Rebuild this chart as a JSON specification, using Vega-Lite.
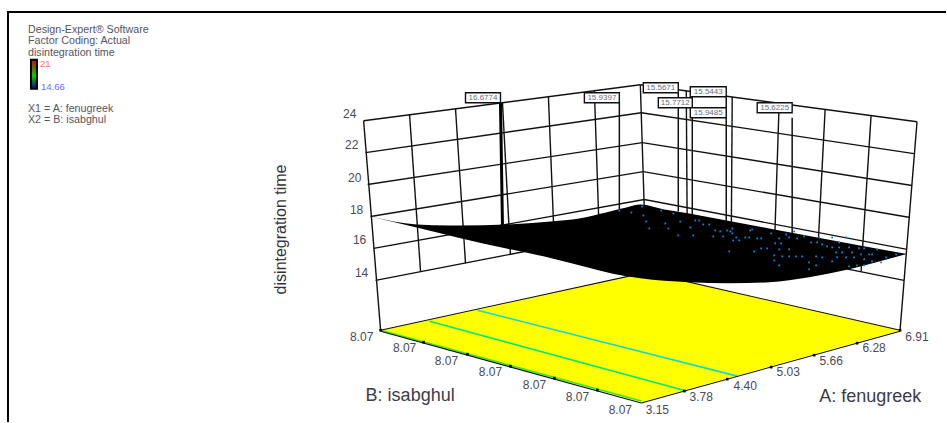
{"$schema":"https://vega.github.io/schema/vega-lite/v6.json","width":947,"height":423,"padding":0,"autosize":{"type":"fit","contains":"padding"},"background":"white","config":{"view":{"stroke":null},"text":{"font":"Liberation Sans"}},
"datasets":{
"frame":[{"h":7,"v":12,"h2":947,"v2":12},{"h":8,"v":11,"h2":8,"v2":423}],
"walls":[
{"h":364,"v":121,"h2":641,"v2":85},{"h":366,"v":153,"h2":642,"v2":113},{"h":368,"v":185,"h2":643,"v2":143},{"h":371,"v":217,"h2":644,"v2":172},{"h":374,"v":249,"h2":645,"v2":200},{"h":376,"v":281,"h2":645,"v2":229},
{"h":641,"v":85,"h2":918,"v2":122},{"h":642,"v":113,"h2":915,"v2":154},{"h":643,"v":143,"h2":913,"v2":186},{"h":644,"v":172,"h2":911,"v2":218},{"h":645,"v":200,"h2":908,"v2":250},{"h":645,"v":229,"h2":905,"v2":281},
{"h":364,"v":121,"h2":381,"v2":331},{"h":918,"v":122,"h2":901,"v2":331},{"h":641,"v":85,"h2":647,"v2":273},
{"h":410,"v":115,"h2":421,"v2":272},{"h":456,"v":109,"h2":466,"v2":264},{"h":503,"v":103,"h2":511,"v2":255},{"h":549,"v":97,"h2":555,"v2":246},{"h":595,"v":91,"h2":600,"v2":238},
{"h":687,"v":91,"h2":688,"v2":238},{"h":733,"v":97,"h2":732,"v2":246},{"h":780,"v":103,"h2":775,"v2":255},{"h":826,"v":110,"h2":818,"v2":264},{"h":872,"v":116,"h2":862,"v2":272}],
"floor":[{"h":381,"v":331,"v2":331},{"h":642,"v":274,"v2":403},{"h":647,"v":273,"v2":401.6},{"h":901,"v":331,"v2":331}],
"contours":[{"level":"a","h":381,"v":331,"h2":642,"v2":402},{"level":"b","h":430,"v":322,"h2":687,"v2":392},{"level":"c","h":478,"v":311,"h2":738,"v2":377}],
"floorEdges":[{"h":381,"v":331,"h2":647,"v2":273},{"h":647,"v":273,"h2":901,"v2":331},{"h":381,"v":332,"h2":642,"v2":404},{"h":642,"v":404,"h2":901,"v2":332}],
"floorTicks":[{"h":424,"v":343},{"h":468,"v":355},{"h":511,"v":367},{"h":555,"v":379},{"h":598,"v":391},{"h":685,"v":392},{"h":728,"v":380},{"h":772,"v":368},{"h":815,"v":356},{"h":858,"v":344},{"h":381,"v":331},{"h":901,"v":331}],
"stems":[{"h":620,"v":103,"h2":620,"v2":210},{"h":679,"v":93,"h2":679,"v2":212},{"h":693,"v":108,"h2":693,"v2":215},{"h":727,"v":97,"h2":727,"v2":222},{"h":793,"v":118,"h2":793,"v2":236}],
"boldStem":[{"h":501,"v":103,"h2":503,"v2":226}],
"surface":[{"h":371,"v":217,"v2":217},{"h":417,"v":225,"v2":228},{"h":450,"v":226,"v2":236},{"h":460,"v":226,"v2":238.5},{"h":507,"v":225,"v2":249},{"h":557,"v":221.5,"v2":260},{"h":573,"v":220,"v2":264},{"h":627,"v":208,"v2":277},{"h":641,"v":205,"v2":279},{"h":665,"v":210,"v2":281.5},{"h":690,"v":214,"v2":283},{"h":730,"v":221.5,"v2":284},{"h":770,"v":229,"v2":283},{"h":810,"v":236.5,"v2":278},{"h":850,"v":244,"v2":270},{"h":880,"v":249.5,"v2":262},{"h":908,"v":254.5,"v2":254.5}],
"dots":[{"h":632,"v":213},{"h":643,"v":207},{"h":644,"v":216},{"h":647,"v":222},{"h":662,"v":211},{"h":666,"v":224},{"h":674,"v":214},{"h":669,"v":229},{"h":679,"v":236},{"h":681,"v":222},{"h":650,"v":229},{"h":620,"v":211},{"h":691,"v":228},{"h":696,"v":221},{"h":700,"v":221},{"h":694,"v":236},{"h":704,"v":225},{"h":710,"v":225},{"h":714,"v":237},{"h":716,"v":231},{"h":721,"v":232},{"h":724,"v":237},{"h":728,"v":231},{"h":731,"v":232},{"h":733,"v":229},{"h":733,"v":234},{"h":734,"v":241},{"h":737,"v":238},{"h":740,"v":241},{"h":746,"v":238},{"h":750,"v":238},{"h":751,"v":231},{"h":753,"v":230},{"h":758,"v":239},{"h":762,"v":239},{"h":772,"v":234},{"h":776,"v":244},{"h":782,"v":244},{"h":780,"v":239},{"h":787,"v":235},{"h":790,"v":238},{"h":798,"v":239},{"h":795,"v":232},{"h":790,"v":250},{"h":780,"v":250},{"h":768,"v":249},{"h":755,"v":252},{"h":762,"v":249},{"h":775,"v":256},{"h":783,"v":257},{"h":790,"v":257},{"h":797,"v":257},{"h":803,"v":257},{"h":817,"v":257},{"h":780,"v":266},{"h":775,"v":261},{"h":810,"v":270},{"h":817,"v":266},{"h":810,"v":263},{"h":805,"v":237},{"h":812,"v":243},{"h":818,"v":243},{"h":823,"v":245},{"h":828,"v":247},{"h":833,"v":248},{"h":840,"v":248},{"h":850,"v":248},{"h":860,"v":249},{"h":865,"v":249},{"h":873,"v":255},{"h":878,"v":250},{"h":887,"v":258},{"h":897,"v":255},{"h":837,"v":253},{"h":843,"v":253},{"h":853,"v":253},{"h":862,"v":255},{"h":870,"v":255},{"h":838,"v":258},{"h":847,"v":258},{"h":855,"v":258},{"h":865,"v":260},{"h":873,"v":262},{"h":882,"v":263},{"h":823,"v":258},{"h":833,"v":262},{"h":850,"v":267},{"h":858,"v":266},{"h":865,"v":266},{"h":833,"v":238},{"h":840,"v":243},{"h":820,"v":238},{"h":847,"v":238},{"h":730,"v":252}],
"boxes":[{"label":"16.6774","h":466,"h2":501,"v":93,"v2":103},{"label":"15.9397","h":585,"h2":620,"v":93,"v2":103},{"label":"15.5671","h":644,"h2":679,"v":83,"v2":93},{"label":"15.5443","h":691,"h2":727,"v":87,"v2":97},{"label":"15.7712","h":659,"h2":693,"v":98,"v2":108},{"label":"15.9485","h":691,"h2":727,"v":108,"v2":118},{"label":"15.6225","h":758,"h2":793,"v":103,"v2":113}],
"boxText":[{"label":"16.6774","h":483.5,"v":98},{"label":"15.9397","h":602.5,"v":98},{"label":"15.5671","h":661.5,"v":88},{"label":"15.5443","h":709,"v":92},{"label":"15.7712","h":676,"v":103},{"label":"15.9485","h":709,"v":113},{"label":"15.6225","h":775.5,"v":108}],
"ticks":[{"label":"24","h":350,"v":114},{"label":"22","h":352,"v":145},{"label":"20","h":355,"v":178},{"label":"18","h":357,"v":210},{"label":"16","h":360,"v":241},{"label":"14","h":362,"v":274},
{"label":"8.07","h":362,"v":338},{"label":"8.07","h":405,"v":349},{"label":"8.07","h":447,"v":362},{"label":"8.07","h":491,"v":373},{"label":"8.07","h":535,"v":386},{"label":"8.07","h":578,"v":398},{"label":"8.07","h":621,"v":411},
{"label":"3.15","h":658,"v":411},{"label":"3.78","h":702,"v":398},{"label":"4.40","h":746,"v":387},{"label":"5.03","h":789,"v":373},{"label":"5.66","h":832,"v":362},{"label":"6.28","h":875,"v":349},{"label":"6.91","h":918,"v":338}],
"titles":[{"label":"B: isabghul","h":366,"v":397},{"label":"A: fenugreek","h":820,"v":398}],
"note":[{"label":"Design-Expert® Software","h":28,"v":30},{"label":"Factor Coding: Actual","h":28,"v":41},{"label":"disintegration time","h":28,"v":53},{"label":"X1 = A: fenugreek","h":28,"v":109},{"label":"X2 = B: isabghul","h":28,"v":120}],
"bar":[{"h":31,"h2":37,"v":60,"v2":89}]
},
"encoding":{"x":{"field":"h","type":"quantitative","axis":null,"scale":{"domain":[0,947],"nice":false,"zero":false}},"y":{"field":"v","type":"quantitative","axis":null,"scale":{"domain":[423,0],"nice":false,"zero":false}}},
"layer":[
{"data":{"name":"frame"},"mark":{"type":"rule","color":"#000000","strokeWidth":2},"encoding":{"x2":{"field":"h2"},"y2":{"field":"v2"}}},
{"data":{"name":"walls"},"mark":{"type":"rule","color":"#111111","strokeWidth":1.4},"encoding":{"x2":{"field":"h2"},"y2":{"field":"v2"}}},
{"data":{"name":"floor"},"mark":{"type":"area","color":"#ffff00"},"encoding":{"y2":{"field":"v2"}}},
{"data":{"name":"contours"},"mark":{"type":"rule","strokeWidth":1.6},"encoding":{"x2":{"field":"h2"},"y2":{"field":"v2"},"color":{"field":"level","type":"nominal","legend":null,"scale":{"domain":["a","b","c"],"range":["#33ee11","#00e87a","#10dcc8"]}}}},
{"data":{"name":"floorEdges"},"mark":{"type":"rule","color":"#111111","strokeWidth":1.1},"encoding":{"x2":{"field":"h2"},"y2":{"field":"v2"}}},
{"data":{"name":"floorTicks"},"mark":{"type":"square","color":"#000000","size":7,"opacity":1}},
{"data":{"name":"stems"},"mark":{"type":"rule","color":"#111111","strokeWidth":1.5},"encoding":{"x2":{"field":"h2"},"y2":{"field":"v2"}}},
{"data":{"name":"boldStem"},"mark":{"type":"rule","color":"#000000","strokeWidth":3},"encoding":{"x2":{"field":"h2"},"y2":{"field":"v2"}}},
{"data":{"name":"surface"},"mark":{"type":"area","color":"#000000","interpolate":"monotone"},"encoding":{"y2":{"field":"v2"}}},
{"data":{"name":"dots"},"mark":{"type":"square","color":"#0a86dc","size":3.2,"opacity":1}},
{"data":{"name":"boxes"},"mark":{"type":"rect","fill":"#ffffff","stroke":"#111111","strokeWidth":1.4},"encoding":{"x2":{"field":"h2"},"y2":{"field":"v2"}}},
{"data":{"name":"boxText"},"mark":{"type":"text","fontSize":8,"align":"center","baseline":"middle","color":"#6a6a7a"},"encoding":{"text":{"field":"label"}}},
{"data":{"name":"ticks"},"mark":{"type":"text","fontSize":12,"align":"center","baseline":"middle","color":"#4a4a55"},"encoding":{"text":{"field":"label"}}},
{"data":{"name":"titles"},"mark":{"type":"text","fontSize":18,"align":"left","baseline":"middle","color":"#3c3c48"},"encoding":{"text":{"field":"label"}}},
{"data":{"values":[{"label":"disintegration time","h":281,"v":230}]},"mark":{"type":"text","fontSize":16,"angle":270,"align":"center","baseline":"middle","color":"#33333e"},"encoding":{"text":{"field":"label"}}},
{"data":{"name":"note"},"mark":{"type":"text","fontSize":10.7,"align":"left","baseline":"middle","color":"#55555f"},"encoding":{"text":{"field":"label"}}},
{"data":{"name":"bar"},"mark":{"type":"rect","stroke":"#000000","strokeWidth":2,"color":{"gradient":"linear","x1":0,"y1":0,"x2":0,"y2":1,"stops":[{"offset":0,"color":"#e00000"},{"offset":0.25,"color":"#706000"},{"offset":0.55,"color":"#00d000"},{"offset":0.8,"color":"#006040"},{"offset":1,"color":"#0000c0"}]}},"encoding":{"x2":{"field":"h2"},"y2":{"field":"v2"}}},
{"data":{"values":[{"label":"21","h":40,"v":64}]},"mark":{"type":"text","fontSize":9.5,"align":"left","baseline":"middle","color":"#ff6a6a"},"encoding":{"text":{"field":"label"}}},
{"data":{"values":[{"label":"14.66","h":41,"v":87}]},"mark":{"type":"text","fontSize":9.5,"align":"left","baseline":"middle","color":"#6a6aff"},"encoding":{"text":{"field":"label"}}}
]}
